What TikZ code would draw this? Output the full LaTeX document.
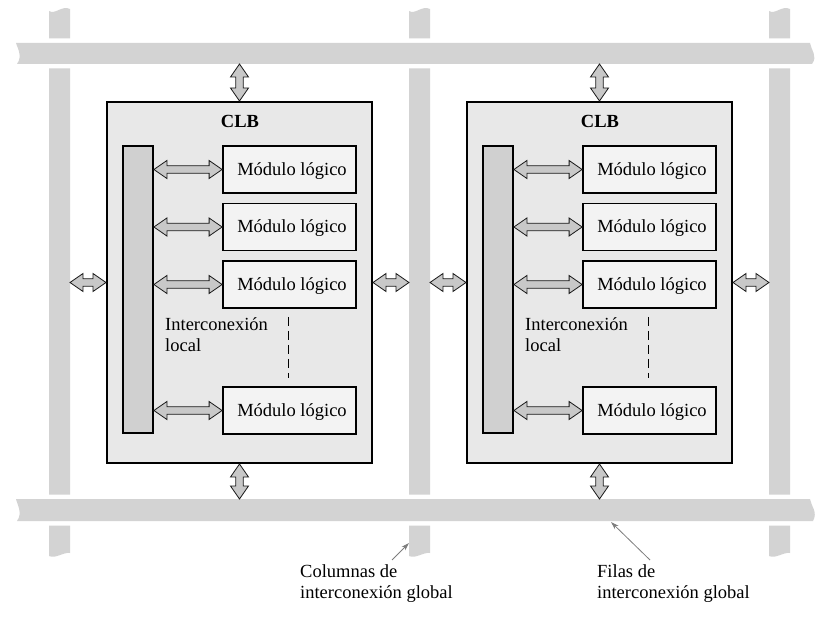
\documentclass[tikz,border=0pt]{standalone}
\usepackage{fontspec}
\setmainfont{Liberation Serif}
\usetikzlibrary{calc,arrows.meta}
\definecolor{barc}{RGB}{211,211,211}
\definecolor{clbc}{RGB}{232,232,232}
\definecolor{locc}{RGB}{208,208,208}
\definecolor{modc}{RGB}{243,243,243}
\definecolor{arrc}{RGB}{200,200,200}
\definecolor{notec}{RGB}{125,125,125}
\newcommand\fatarrow[2]{%
  \coordinate (faA) at (#1);
  \coordinate (faB) at (#2);
  \coordinate (faHA) at ($(faA)!13pt!(faB)$);
  \coordinate (faHB) at ($(faB)!13pt!(faA)$);
  \filldraw[fatarr] (faA) -- ($(faHA)!9pt!90:(faB)$) -- ($(faHA)!3.75pt!90:(faB)$)
    -- ($(faHB)!3.75pt!-90:(faA)$) -- ($(faHB)!9pt!-90:(faA)$) -- (faB)
    -- ($(faHB)!9pt!90:(faA)$) -- ($(faHB)!3.75pt!90:(faA)$)
    -- ($(faHA)!3.75pt!-90:(faB)$) -- ($(faHA)!9pt!-90:(faB)$) -- cycle;}
\begin{document}
\begin{tikzpicture}[x=1pt,y=-1pt,
  font=\fontsize{18.5pt}{21pt}\selectfont,
  clb/.style={draw=black, line width=2pt, fill=clbc, minimum width=265pt, minimum height=361pt, inner sep=0pt},
  locbar/.style={draw=black, line width=1.8pt, fill=locc, minimum width=30pt, minimum height=287pt, inner sep=0pt},
  modbox/.style={draw=black, line width=1.8pt, fill=modc, minimum width=133pt, minimum height=47pt, inner sep=0pt, text height=13pt, text depth=1pt},
  fatarr/.style={draw=black!90, fill=arrc, line width=0.8pt, line join=miter},
  gbar/.style={fill=barc, preaction={draw=white, line width=9pt}},
  txt/.style={anchor=north west, align=left, inner sep=0pt},
  note/.style={draw=notec, line width=0.8pt, -{Stealth[length=8pt,width=5pt]}}]
\useasboundingbox (0,0) rectangle (833,620);
% global columns
\foreach \cx [count=\k] in {49,409,769}{
  \fill[barc] (\cx,11) .. controls (\cx+6,15) and (\cx+13,5) .. (\cx+21,9)
     -- (\cx+21,553) .. controls (\cx+14,552) and (\cx+7,559) .. (\cx,556) -- cycle;
  \coordinate (colw\k) at (\cx,284);
  \coordinate (cole\k) at (\cx+21,284);
}
% global rows
\fill[gbar] (16,43) -- (810,43) .. controls (811,50) and (818,56) .. (812,64)
   -- (17,64) .. controls (23,56) and (17,47) .. (16,43) -- cycle;
\fill[gbar] (16,499) -- (810,499) .. controls (811,506) and (818,512) .. (813,521)
   -- (17,521) .. controls (23,513) and (17,504) .. (16,499) -- cycle;
\coordinate (topbar) at (0,64);
\coordinate (botbar) at (0,499);
% CLBs
\foreach \i/\dx in {1/0,2/360}{
  \node[clb] (clb\i) at (239.5+\dx,282.5) {};
  \node[font=\fontsize{18.5pt}{21pt}\selectfont\bfseries, anchor=base] (clbt\i) at (240+\dx,128) {CLB};
  \node[locbar] (loc\i) at (138+\dx,289.5) {};
  \foreach \j/\y in {1/169.5,2/227,3/284.5,4/410.5}{
    \node[modbox] (mod\i\j) at (289.5+\dx,\y) {\hspace*{5pt}Módulo lógico};
    \fatarrow{loc\i.east |- mod\i\j.west}{mod\i\j.west}
  }
  \node[txt] (il\i) at (165+\dx,317) {Interconexión\\local};
  \draw[line width=1pt, dash pattern=on 9pt off 5pt] ($(mod\i3.south)+(-1.5,8)$) -- ($(mod\i4.north)+(-1.5,-8)$);
  \fatarrow{clb\i.north |- topbar}{clb\i.north}
  \fatarrow{clb\i.south}{clb\i.south |- botbar}
}
% side arrows
\fatarrow{cole1 |- clb1.west}{clb1.west}
\fatarrow{clb1.east}{colw2 |- clb1.east}
\fatarrow{cole2 |- clb2.west}{clb2.west}
\fatarrow{clb2.east}{colw3 |- clb2.east}
% labels
\node[txt] (lblc) at (300,564) {Columnas de\\interconexión global};
\node[txt] (lblf) at (597,564) {Filas de\\interconexión global};
\coordinate (ac) at (409,543);
\coordinate (af) at (611,522);
\draw[note] ($(lblc.north west)+(92,-4)$) -- (ac);
\draw[note] ($(lblf.north west)+(53,-4)$) -- (af);
\end{tikzpicture}
\end{document}
